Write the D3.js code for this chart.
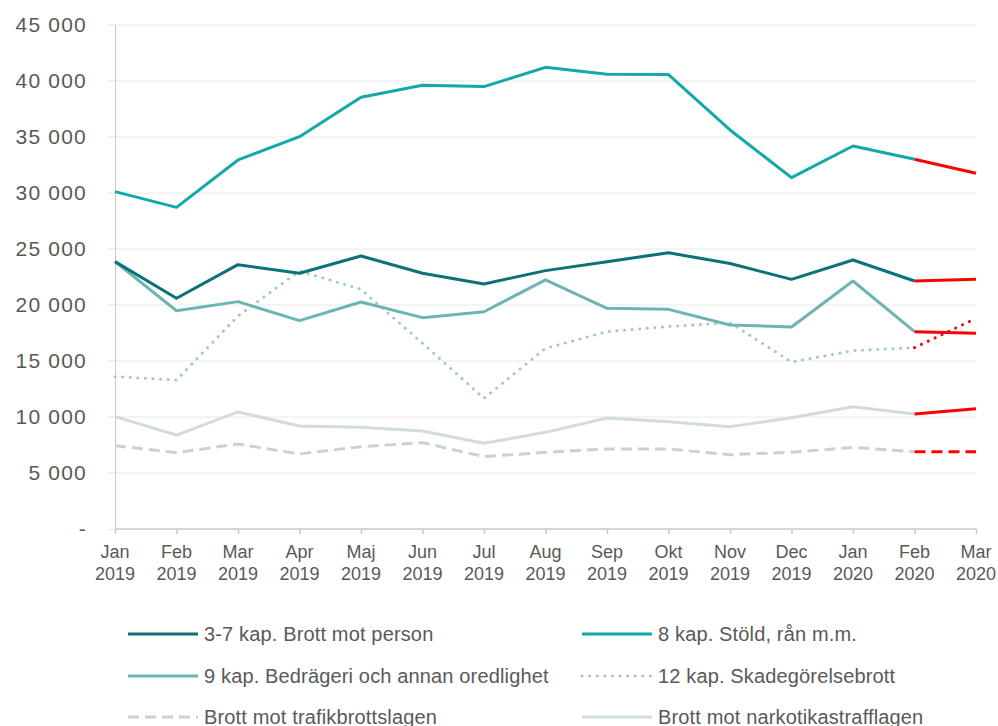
<!DOCTYPE html>
<html>
<head>
<meta charset="utf-8">
<script src="https://cdn.jsdelivr.net/npm/d3@7"></script>
<style>
  body { margin: 0; background: #fff; }
  svg { display: block; font-family: "Liberation Sans", Arial, sans-serif; }
</style>
</head>
<body>
<svg id="chart" width="998" height="726"></svg>
<script>
// months on the x axis (two-line labels)
var months = ["Jan", "Feb", "Mar", "Apr", "Maj", "Jun", "Jul", "Aug", "Sep", "Okt", "Nov", "Dec", "Jan", "Feb", "Mar"];
var years = ["2019", "2019", "2019", "2019", "2019", "2019", "2019", "2019", "2019", "2019", "2019", "2019", "2020", "2020", "2020"];

var yTicks = [0, 5000, 10000, 15000, 20000, 25000, 30000, 35000, 40000, 45000];

// series values
var person = [23870, 20600, 23600, 22830, 24380, 22830, 21880, 23070, 23870, 24670, 23700, 22290, 24020, 22140, 22290];
var stold = [30120, 28720, 32950, 35030, 38550, 39620, 39500, 41220, 40600, 40570, 35630, 31370, 34200, 33010, 31760];
var bedrageri = [23870, 19490, 20300, 18600, 20270, 18870, 19400, 22250, 19700, 19610, 18210, 18040, 22140, 17620, 17470];
var skadegorelse = [13600, 13300, 19020, 23040, 21400, 16580, 11670, 16130, 17620, 18070, 18420, 14910, 15920, 16190, 18810];
var trafik = [7440, 6820, 7590, 6700, 7350, 7710, 6460, 6850, 7140, 7140, 6640, 6850, 7290, 6900, 6900];
var narkotika = [10030, 8390, 10450, 9200, 9080, 8750, 7650, 8630, 9910, 9580, 9140, 9940, 10920, 10270, 10740];

var series = [
    { name: "3-7 kap. Brott mot person", values: person, color: "#0b7378", dash: null },
    { name: "8 kap. Stöld, rån m.m.", values: stold, color: "#13a9a9", dash: null },
    { name: "9 kap. Bedrägeri och annan oredlighet", values: bedrageri, color: "#6cb5b3", dash: null },
    { name: "12 kap. Skadegörelsebrott", values: skadegorelse, color: "#a2cbbf", dash: "dot" },
    { name: "Brott mot trafikbrottslagen", values: trafik, color: "#c9d1d8", dash: "dash" },
    { name: "Brott mot narkotikastrafflagen", values: narkotika, color: "#d3ddd8", dash: null }
];
// draw order: light ones at the back
var drawOrder = [5, 4, 3, 2, 0, 1];

var svg = d3.select("#chart");
var textColor = "#595959";

var x = d3.scalePoint().domain(d3.range(months.length)).range([115, 976]);
var y = d3.scaleLinear().domain([0, 45000]).range([529, 25]);

// gridlines
svg.append("g")
    .selectAll("line")
    .data(yTicks.filter(function (d) { return d > 0; }))
    .enter().append("line")
    .attr("x1", 108).attr("x2", 976)
    .attr("y1", function (d) { return y(d); })
    .attr("y2", function (d) { return y(d); })
    .attr("stroke", "#e9e9e9")
    .attr("stroke-width", 1);

// y axis
var fmt = function (d) {
    if (d === 0) return "-";
    return d3.format(",")(d).replace(/,/g, " ");
};
var yAxis = svg.append("g")
    .attr("transform", "translate(115,0)")
    .call(d3.axisLeft(y).tickValues(yTicks).tickFormat(fmt).tickSize(7).tickPadding(21));
yAxis.select(".domain").attr("stroke", "#c8c8c8");
yAxis.selectAll(".tick line").attr("stroke", "#e9e9e9");
yAxis.selectAll(".tick text")
    .attr("fill", textColor)
    .style("font-size", "21px")
    .style("letter-spacing", "1.2px");

// x axis
var xAxis = svg.append("g")
    .attr("transform", "translate(0,529)")
    .call(d3.axisBottom(x).tickSize(5).tickFormat(""));
xAxis.select(".domain").attr("stroke", "#c8c8c8").attr("stroke-width", 1.5)
    .attr("d", "M115,0H976");
xAxis.selectAll(".tick line").attr("stroke", "#c8c8c8").attr("stroke-width", 1.5);

var xl = svg.append("g").selectAll("text")
    .data(months)
    .enter().append("text")
    .attr("x", function (d, i) { return x(i); })
    .attr("y", 558)
    .attr("text-anchor", "middle")
    .attr("fill", textColor)
    .style("font-size", "18px");
xl.append("tspan").attr("x", function (d, i) { return x(i); }).text(function (d) { return d; });
xl.append("tspan").attr("x", function (d, i) { return x(i); }).attr("dy", 22)
    .text(function (d, i) { return years[i]; });

var line = d3.line()
    .x(function (d) { return x(d.i); })
    .y(function (d) { return y(d.v); });

function styleLine(sel, color, dash) {
    sel.attr("fill", "none")
        .attr("stroke", color)
        .attr("stroke-width", 3)
        .attr("stroke-linejoin", "round");
    if (dash === "dot") {
        sel.attr("stroke-dasharray", "0.1 7.5").attr("stroke-linecap", "round");
    } else if (dash === "dash") {
        sel.attr("stroke-dasharray", "11 6");
    }
    return sel;
}

var last = months.length - 1;
drawOrder.forEach(function (k) {
    var s = series[k];
    var pts = s.values.map(function (v, i) { return { i: i, v: v }; });
    // main part up to Feb 2020
    styleLine(svg.append("path").datum(pts.slice(0, last)).attr("d", line), s.color, s.dash);
    // last month in red
    styleLine(svg.append("path").datum(pts.slice(last - 1)).attr("d", line), "#ff0000", s.dash);
});

// legend
var legendCols = [128, 582];
var legendRows = [634, 676, 717];
var lg = svg.append("g").selectAll("g")
    .data(series)
    .enter().append("g")
    .attr("transform", function (d, i) {
        return "translate(" + legendCols[i % 2] + "," + legendRows[Math.floor(i / 2)] + ")";
    });
lg.each(function (d) {
    var g = d3.select(this);
    styleLine(g.append("path").attr("d", "M0,0H70"), d.color, d.dash);
});
lg.append("text")
    .attr("x", 76)
    .attr("y", 7)
    .attr("fill", textColor)
    .style("font-size", "20px")
    .style("letter-spacing", "0.15px")
    .text(function (d) { return d.name; });
</script>
</body>
</html>
